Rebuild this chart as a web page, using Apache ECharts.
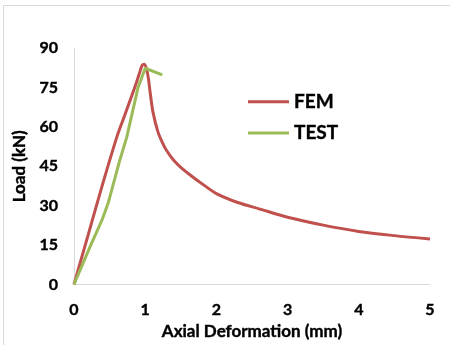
<!DOCTYPE html>
<html>
<head>
<meta charset="utf-8">
<script src="https://cdn.jsdelivr.net/npm/echarts@6/dist/echarts.min.js"></script>
<style>
html, body { margin: 0; padding: 0; background: #fff; }
#chart { width: 450px; height: 345px; }
</style>
</head>
<body>
<div id="chart"></div>
<script>
let seriesNames = ['FEM', 'TEST'];
let xTicks = [0, 1, 2, 3, 4, 5];
let yTicks = [0, 15, 30, 45, 60, 75, 90];

// deformation (mm), load (kN)
let femX = [0, 0.2, 0.4, 0.6, 0.7, 0.78, 0.86, 0.92, 0.96, 0.99, 1.035, 1.07, 1.11, 1.18, 1.25, 1.3, 1.4, 1.5, 1.65, 1.8, 2.0, 2.3, 2.6, 3.0, 3.5, 4.0, 4.5, 5.0];
let femY = [0, 19, 38, 56, 63.5, 69.5, 75.5, 80.5, 83.5, 83.8, 80, 73, 65.5, 58, 53.5, 51, 47.3, 44.6, 41.3, 38.3, 34.6, 31.2, 28.8, 25.6, 22.6, 20.2, 18.6, 17.3];
let testX = [0, 0.22, 0.40, 0.48, 0.55, 0.64, 0.74, 0.82, 0.90, 1.0, 1.24];
let testY = [0, 14, 25, 31, 38, 47, 56, 65.5, 75, 82.3, 79.8];

let femData = femX.map((x, i) => [x, femY[i]]);
let testData = testX.map((x, i) => [x, testY[i]]);

let myChart = echarts.init(document.getElementById('chart'));

function font(size) {
	return {
		fontFamily: 'Lato',
		fontWeight: 'bold',
		fontSize: size,
		color: '#000',
		textBorderColor: '#000',
		textBorderWidth: 0.4
	};
}

let option = {
	animation: false,
	graphic: [{
		type: 'rect',
		shape: { x: 3.5, y: 5.5, width: 500, height: 400 },
		style: { fill: 'none', stroke: '#d9d9d9', lineWidth: 1 },
		silent: true
	}],
	grid: {
		left: 74,
		right: 20,
		top: 48,
		bottom: 53
	},
	legend: {
		data: seriesNames,
		orient: 'vertical',
		left: 243,
		top: 87,
		icon: 'rect',
		itemWidth: 41,
		itemHeight: 3,
		itemGap: 12,
		textStyle: font(19)
	},
	xAxis: {
		type: 'value',
		min: xTicks[0],
		max: xTicks[xTicks.length - 1],
		interval: 1,
		name: 'Axial Deformation (mm)',
		nameLocation: 'middle',
		nameGap: 29,
		nameTextStyle: font(17),
		axisLine: { lineStyle: { color: '#d9d9d9', width: 1 } },
		axisTick: { show: false },
		splitLine: { show: false },
		axisLabel: Object.assign({ margin: 17 }, font(16))
	},
	yAxis: {
		type: 'value',
		min: yTicks[0],
		max: yTicks[yTicks.length - 1],
		interval: 15,
		name: 'Load (kN)',
		nameLocation: 'middle',
		nameGap: 44,
		nameTextStyle: font(17),
		axisLine: { show: true, lineStyle: { color: '#d9d9d9', width: 1 } },
		axisTick: { show: false },
		splitLine: { show: false },
		axisLabel: Object.assign({ margin: 16 }, font(16))
	},
	series: [
		{
			name: seriesNames[0],
			type: 'line',
			data: femData,
			smooth: 0.3,
			showSymbol: false,
			itemStyle: { color: '#C0504D' },
			lineStyle: { color: '#C0504D', width: 3 }
		},
		{
			name: seriesNames[1],
			type: 'line',
			data: testData,
			smooth: false,
			showSymbol: false,
			itemStyle: { color: '#9BBB59' },
			lineStyle: { color: '#9BBB59', width: 3 }
		}
	]
};

myChart.setOption(option);
</script>
</body>
</html>
